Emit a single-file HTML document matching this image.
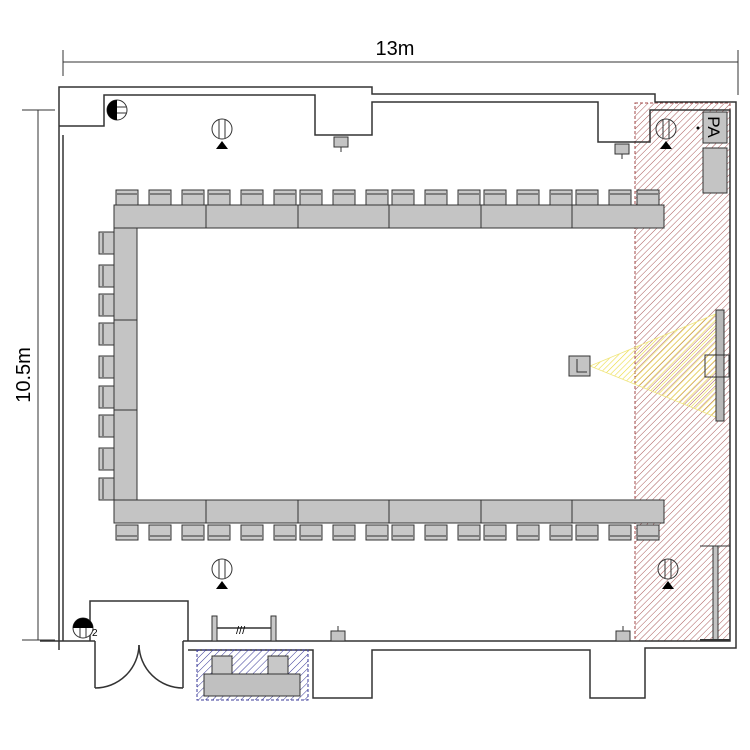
<!DOCTYPE html>
<html><head><meta charset="utf-8"><style>body{margin:0;background:#fff}svg{display:block}</style></head><body>
<svg width="750" height="750" viewBox="0 0 750 750" xmlns="http://www.w3.org/2000/svg" font-family="Liberation Sans, sans-serif">
<defs>
<pattern id="red" width="4.5" height="4.5" patternUnits="userSpaceOnUse" patternTransform="rotate(45)"><line x1="0" y1="0" x2="0" y2="4.5" stroke="#a04848" stroke-width="0.9"/></pattern>
<pattern id="yel" width="4" height="4" patternUnits="userSpaceOnUse" patternTransform="rotate(45)"><line x1="0" y1="0" x2="0" y2="4" stroke="#ecdc3c" stroke-width="1.2"/></pattern>
<pattern id="blu" width="5" height="5" patternUnits="userSpaceOnUse" patternTransform="rotate(45)"><line x1="0" y1="0" x2="0" y2="5" stroke="#3a3a98" stroke-width="1"/></pattern>
<g id="chT"><rect x="-11" y="0" width="22" height="15" fill="#c8c8c8" stroke="#333"/><line x1="-10" y1="4" x2="10" y2="4" stroke="#333"/></g>
<g id="chL"><rect x="0" y="-11" width="15" height="22" fill="#c8c8c8" stroke="#333"/><line x1="4" y1="-10" x2="4" y2="10" stroke="#333"/></g>
</defs>
<line x1="63" y1="62" x2="738" y2="62" stroke="#333"/>
<line x1="63" y1="50" x2="63" y2="76" stroke="#333"/>
<line x1="738" y1="50" x2="738" y2="95" stroke="#333"/>
<text x="395" y="55" font-size="20" text-anchor="middle">13m</text>
<line x1="38" y1="110" x2="38" y2="640" stroke="#333"/>
<line x1="22" y1="110" x2="55" y2="110" stroke="#333"/>
<line x1="22" y1="640" x2="55" y2="640" stroke="#333"/>
<text transform="translate(30,375) rotate(-90)" font-size="20" text-anchor="middle">10.5m</text>
<rect x="635" y="103" width="95" height="538" fill="url(#red)" stroke="#a04848" stroke-dasharray="3,2"/>
<g fill="none" stroke="#333" stroke-width="1.5">
<polyline points="59,650 59,87 372,87 372,94 655,94 655,102 736,102 736,648 645,648 645,698 590,698 590,650 372,650 372,698 313,698 313,650 188,650"/>
<polyline points="59,126 104,126 104,95 315,95 315,135 372,135 372,102 598,102 598,142 650,142 650,110 730,110 730,641 183,641"/>
<polyline points="95,641 40,641"/>
<line x1="63" y1="135" x2="63" y2="641"/>
<line x1="95" y1="641" x2="95" y2="688"/>
<line x1="183" y1="641" x2="183" y2="688"/>
<path d="M95,688 A44,44 0 0 0 139,645"/>
<path d="M183,688 A44,44 0 0 1 139,645"/>
<path d="M90,641 V601 H188 V641"/>
</g>
<rect x="197" y="650" width="111" height="50" fill="url(#blu)" stroke="#3a3a98" stroke-dasharray="3,2"/>
<rect x="204" y="674" width="96" height="22" fill="#c0c0c0" stroke="#333"/>
<rect x="212" y="656" width="20" height="18" fill="#c8c8c8" stroke="#333"/>
<rect x="268" y="656" width="20" height="18" fill="#c8c8c8" stroke="#333"/>
<rect x="212" y="616" width="5" height="25" fill="#c8c8c8" stroke="#333"/>
<rect x="271" y="616" width="5" height="25" fill="#c8c8c8" stroke="#333"/>
<line x1="217" y1="628" x2="271" y2="628" stroke="#333" stroke-width="1.5"/>
<text x="236" y="634" font-size="11">///</text>
<g fill="#c4c4c4" stroke="#333">
<rect x="114" y="205" width="550" height="23"/>
<rect x="114" y="500" width="550" height="23"/>
<rect x="114" y="228" width="23" height="272"/>
</g>
<g stroke="#333">
<line x1="206" y1="205" x2="206" y2="228"/><line x1="298" y1="205" x2="298" y2="228"/><line x1="389" y1="205" x2="389" y2="228"/><line x1="481" y1="205" x2="481" y2="228"/><line x1="572" y1="205" x2="572" y2="228"/>
<line x1="206" y1="500" x2="206" y2="523"/><line x1="298" y1="500" x2="298" y2="523"/><line x1="389" y1="500" x2="389" y2="523"/><line x1="481" y1="500" x2="481" y2="523"/><line x1="572" y1="500" x2="572" y2="523"/>
<line x1="114" y1="320" x2="137" y2="320"/><line x1="114" y1="410" x2="137" y2="410"/>
</g>
<g>
<use href="#chT" x="127" y="190"/><use href="#chT" x="160" y="190"/><use href="#chT" x="193" y="190"/><use href="#chT" x="219" y="190"/><use href="#chT" x="252" y="190"/><use href="#chT" x="285" y="190"/><use href="#chT" x="311" y="190"/><use href="#chT" x="344" y="190"/><use href="#chT" x="377" y="190"/><use href="#chT" x="403" y="190"/><use href="#chT" x="436" y="190"/><use href="#chT" x="469" y="190"/><use href="#chT" x="495" y="190"/><use href="#chT" x="528" y="190"/><use href="#chT" x="561" y="190"/><use href="#chT" x="587" y="190"/><use href="#chT" x="620" y="190"/><use href="#chT" x="648" y="190"/>
</g>
<g transform="translate(0,1063) scale(1,-1)">
<use href="#chT" x="127" y="523"/><use href="#chT" x="160" y="523"/><use href="#chT" x="193" y="523"/><use href="#chT" x="219" y="523"/><use href="#chT" x="252" y="523"/><use href="#chT" x="285" y="523"/><use href="#chT" x="311" y="523"/><use href="#chT" x="344" y="523"/><use href="#chT" x="377" y="523"/><use href="#chT" x="403" y="523"/><use href="#chT" x="436" y="523"/><use href="#chT" x="469" y="523"/><use href="#chT" x="495" y="523"/><use href="#chT" x="528" y="523"/><use href="#chT" x="561" y="523"/><use href="#chT" x="587" y="523"/><use href="#chT" x="620" y="523"/><use href="#chT" x="648" y="523"/>
</g>
<g>
<use href="#chL" x="99" y="243"/><use href="#chL" x="99" y="276"/><use href="#chL" x="99" y="305"/><use href="#chL" x="99" y="334"/><use href="#chL" x="99" y="367"/><use href="#chL" x="99" y="397"/><use href="#chL" x="99" y="426"/><use href="#chL" x="99" y="459"/><use href="#chL" x="99" y="489"/>
</g>
<polygon points="590,366 718,313 718,418" fill="url(#yel)" stroke="#f0e680" stroke-width="0.8"/>
<rect x="569" y="356" width="21" height="20" fill="#c4c4c4" stroke="#333"/>
<polyline points="577,359 577,372 587,372" fill="none" stroke="#333"/>
<rect x="716" y="310" width="8" height="111" fill="#b8b8b8" stroke="#333"/>
<rect x="705" y="355" width="24" height="22" fill="none" stroke="#333"/>
<rect x="703" y="112" width="24" height="31" fill="#c4c4c4" stroke="#333"/>
<text transform="translate(708,127) rotate(90)" font-size="17" text-anchor="middle">PA</text>
<rect x="703" y="148" width="24" height="45" fill="#c4c4c4" stroke="#333"/>
<circle cx="698" cy="128" r="1.5" fill="#000"/>
<line x1="700" y1="546" x2="730" y2="546" stroke="#333"/>
<rect x="713" y="546" width="5" height="95" fill="#c4c4c4" stroke="#333"/>
<line x1="700" y1="640" x2="730" y2="640" stroke="#333" stroke-width="2"/>
<g fill="none" stroke="#333">
<circle cx="222" cy="129" r="10" fill="#fff"/><line x1="219" y1="120" x2="219" y2="138"/><line x1="225" y1="120" x2="225" y2="138"/>
<circle cx="222" cy="569" r="10" fill="#fff"/><line x1="219" y1="560" x2="219" y2="578"/><line x1="225" y1="560" x2="225" y2="578"/>
<circle cx="666" cy="129" r="10"/><line x1="663" y1="120" x2="663" y2="138"/><line x1="669" y1="120" x2="669" y2="138"/>
<circle cx="668" cy="569" r="10"/><line x1="665" y1="560" x2="665" y2="578"/><line x1="671" y1="560" x2="671" y2="578"/>
<circle cx="117" cy="110" r="10" fill="#fff"/><line x1="110" y1="107" x2="126" y2="107"/><line x1="110" y1="113" x2="126" y2="113"/>
<circle cx="83" cy="628" r="10" fill="#fff"/><line x1="80" y1="619" x2="80" y2="637"/><line x1="86" y1="619" x2="86" y2="637"/>
</g>
<path d="M117,100 A10,10 0 0 0 117,120 Z" fill="#000"/>
<path d="M73,628 A10,10 0 0 1 93,628 Z" fill="#000"/>
<text x="92" y="636" font-size="10">2</text>
<g fill="#000">
<polygon points="222,141 216,149 228,149"/><polygon points="222,581 216,589 228,589"/>
<polygon points="666,141 660,149 672,149"/><polygon points="668,581 662,589 674,589"/>
</g>
<g fill="#c4c4c4" stroke="#333">
<rect x="334" y="137" width="14" height="10"/><line x1="341" y1="147" x2="341" y2="152"/>
<rect x="615" y="144" width="14" height="10"/><line x1="622" y1="154" x2="622" y2="159"/>
<rect x="331" y="631" width="14" height="10"/><line x1="338" y1="631" x2="338" y2="626"/>
<rect x="616" y="631" width="14" height="10"/><line x1="623" y1="631" x2="623" y2="626"/>
</g>
</svg>
</body></html>
